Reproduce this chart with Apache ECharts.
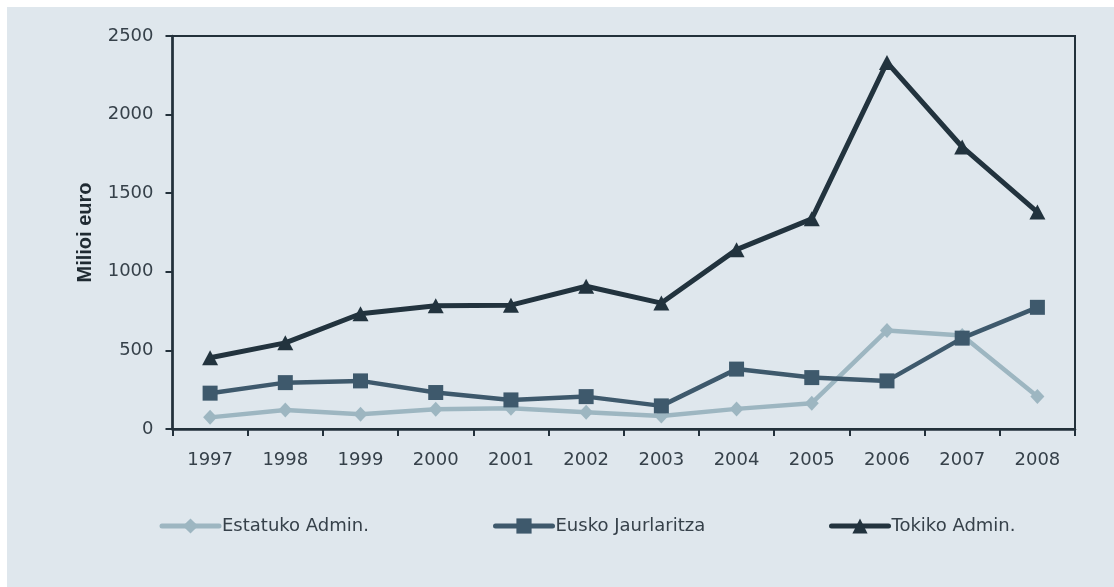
<!DOCTYPE html>
<html>
<head>
<meta charset="utf-8">
<script src="https://cdn.jsdelivr.net/npm/echarts@6/dist/echarts.min.js"></script>
<style>
  html, body { margin: 0; padding: 0; background: #ffffff; width: 1114px; height: 587px; overflow: hidden; }
  #chart { position: absolute; left: 7px; top: 7px; width: 1107px; height: 580px; }
</style>
</head>
<body>
<div id="chart"></div>
<script>
const categories = ['1997','1998','1999','2000','2001','2002','2003','2004','2005','2006','2007','2008'];
const seriesNames = ['Estatuko Admin.', 'Eusko Jaurlaritza', 'Tokiko Admin.'];
const estatuko = [74, 121, 94, 125, 132, 106, 83, 128, 164, 627, 595, 206];
const eusko = [228, 295, 306, 232, 185, 206, 147, 381, 327, 306, 578, 774];
const tokiko = [453, 548, 733, 784, 788, 908, 801, 1141, 1337, 2332, 1794, 1380];
const yAxisName = 'Milioi euro';

const colors = ['#9db6c1', '#3e596c', '#22333e'];
const axisColor = '#23313b';
const textColor = '#36414a';
const tickFont = '"DejaVu Sans", sans-serif';

const chart = echarts.init(document.getElementById('chart'), null, { renderer: 'canvas' });

function legendFor(name, left, lw) {
  return {
    data: [name],
    left: left,
    top: 510,
    padding: 0,
    itemWidth: 57,
    itemHeight: 19,
    itemGap: 0,
    lineStyle: { width: lw, cap: 'round' },
    textStyle: { fontFamily: tickFont, fontSize: 18, color: textColor, padding: [0, 0, 0, -2] }
  };
}

const option = {
  backgroundColor: '#dfe7ed',
  animation: false,
  grid: {
    left: 165.5, top: 29, right: 39, bottom: 158,
    show: true, borderColor: axisColor, borderWidth: 2, backgroundColor: 'transparent'
  },
  legend: [
    legendFor(seriesNames[0], 152.5, 5),
    legendFor(seriesNames[1], 486, 5),
    legendFor(seriesNames[2], 822, 5)
  ],
  xAxis: {
    type: 'category',
    data: categories,
    boundaryGap: true,
    axisLine: { show: true, lineStyle: { color: axisColor, width: 2.5 } },
    axisTick: { show: true, length: 7, lineStyle: { color: axisColor, width: 2 } },
    axisLabel: { fontFamily: tickFont, fontSize: 18, color: textColor, margin: 22 },
    splitLine: { show: false }
  },
  yAxis: {
    type: 'value',
    min: 0, max: 2500, interval: 500,
    name: yAxisName,
    nameLocation: 'middle',
    nameGap: 77,
    nameTextStyle: { fontFamily: '"Liberation Sans", Arial, sans-serif', fontWeight: 'bold', fontSize: 20, color: '#1f2a32' },
    axisLine: { show: true, lineStyle: { color: axisColor, width: 2.5 } },
    axisTick: { show: true, length: 7, lineStyle: { color: axisColor, width: 2 } },
    axisLabel: { fontFamily: tickFont, fontSize: 18, color: textColor, margin: 19, formatter: function (v) { return String(v); } },
    splitLine: { show: false }
  },
  series: [
    {
      name: seriesNames[0], type: 'line', data: estatuko,
      symbol: 'diamond', symbolSize: [14, 15],
      lineStyle: { color: colors[0], width: 4.5 },
      itemStyle: { color: colors[0] },
      z: 2
    },
    {
      name: seriesNames[1], type: 'line', data: eusko,
      symbol: 'rect', symbolSize: 15,
      lineStyle: { color: colors[1], width: 4.5 },
      itemStyle: { color: colors[1] },
      z: 3
    },
    {
      name: seriesNames[2], type: 'line', data: tokiko,
      symbol: 'triangle', symbolSize: [16, 15],
      lineStyle: { color: colors[2], width: 5 },
      itemStyle: { color: colors[2] },
      z: 4
    }
  ]
};
chart.setOption(option);
</script>
</body>
</html>
